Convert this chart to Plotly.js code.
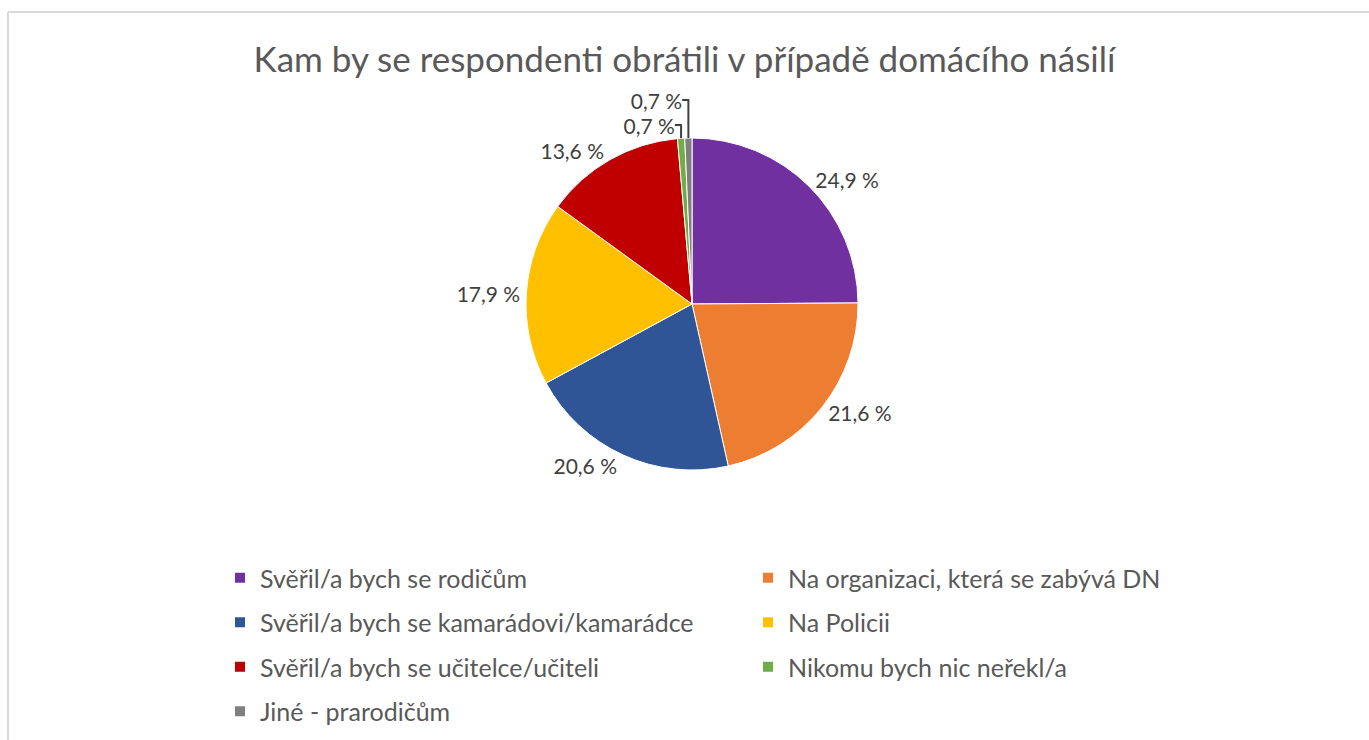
<!DOCTYPE html>
<html>
<head>
<meta charset="utf-8">
<script src="https://cdn.plot.ly/plotly-3.0.1.min.js"></script>
<style>
html,body{margin:0;padding:0;background:#fff;overflow:hidden;}
#chart{width:1369px;height:740px;}
</style>
</head>
<body>
<div id="chart"></div>
<script>
const categories = [
  "Svěřil/a bych se rodičům",
  "Na organizaci, která se zabývá DN",
  "Svěřil/a bych se kamarádovi/kamarádce",
  "Na Policii",
  "Svěřil/a bych se učitelce/učiteli",
  "Nikomu bych nic neřekl/a",
  "Jiné - prarodičům"
];
const values = [24.9, 21.6, 20.6, 17.9, 13.6, 0.7, 0.7];
const colors = ["#7030A0", "#ED7D31", "#2F5597", "#FFC000", "#C00000", "#70AD47", "#7F7F7F"];

const fontFam = "Lato, 'Open Sans', sans-serif";

const pie = {
  type: "pie",
  labels: categories,
  values: values,
  sort: false,
  direction: "clockwise",
  rotation: 0,
  marker: {colors: colors, line: {color: "#ffffff", width: 1}},
  textposition: "outside",
  texttemplate: "%{value:.1f} %",
  textfont: {size: 21, color: "#404040", family: fontFam},
  hoverinfo: "label+value",
  domain: {x: [0.2, 0.811], y: [1 - 470/740, 1 - 138/740]},
  automargin: false,
  showlegend: false
};

// Legend entries (no data points), laid out in two columns like the reference
const legendTraces = categories.map((name, i) => ({
  type: "scatter",
  mode: "markers",
  x: [null],
  y: [null],
  name: name,
  legend: (i % 2 === 0) ? "legend" : "legend2",
  legendgroup: "g" + i,
  marker: {symbol: "square", size: 10, color: colors[i]},
  hoverinfo: "skip"
}));

const legendCommon = {
  orientation: "v",
  yanchor: "top",
  font: {size: 25, color: "#595959", family: fontFam},
  itemwidth: 30,
  tracegroupgap: 9,
  bgcolor: "rgba(0,0,0,0)",
  traceorder: "grouped"
};

const layout = {
  width: 1369,
  height: 740,
  margin: {l: 0, r: 0, t: 0, b: 0},
  paper_bgcolor: "#ffffff",
  plot_bgcolor: "#ffffff",
  separators: ", ",
  font: {family: fontFam, color: "#595959"},
  title: {
    text: "Kam by se respondenti obrátili v případě domácího násilí",
    font: {size: 35, color: "#595959", family: fontFam},
    x: 0.5, xanchor: "center",
    y: 1 - 60/740, yanchor: "middle"
  },
  showlegend: true,
  legend: Object.assign({}, legendCommon, {x: 220/1369, xanchor: "left", y: 1 - 555/740}),
  legend2: Object.assign({}, legendCommon, {x: 748/1369, xanchor: "left", y: 1 - 555/740}),
  xaxis: {visible: false},
  yaxis: {visible: false},
  shapes: [
    {type: "line", xref: "paper", yref: "paper", x0: 8/1369, x1: 1, y0: 1 - 12/740, y1: 1 - 12/740, line: {color: "#d9d9d9", width: 2}},
    {type: "line", xref: "paper", yref: "paper", x0: 8/1369, x1: 8/1369, y0: 0, y1: 1 - 12/740, line: {color: "#d9d9d9", width: 2}}
  ]
};

Plotly.newPlot("chart", [pie].concat(legendTraces), layout, {displayModeBar: false, staticPlot: true});
</script>
</body>
</html>
